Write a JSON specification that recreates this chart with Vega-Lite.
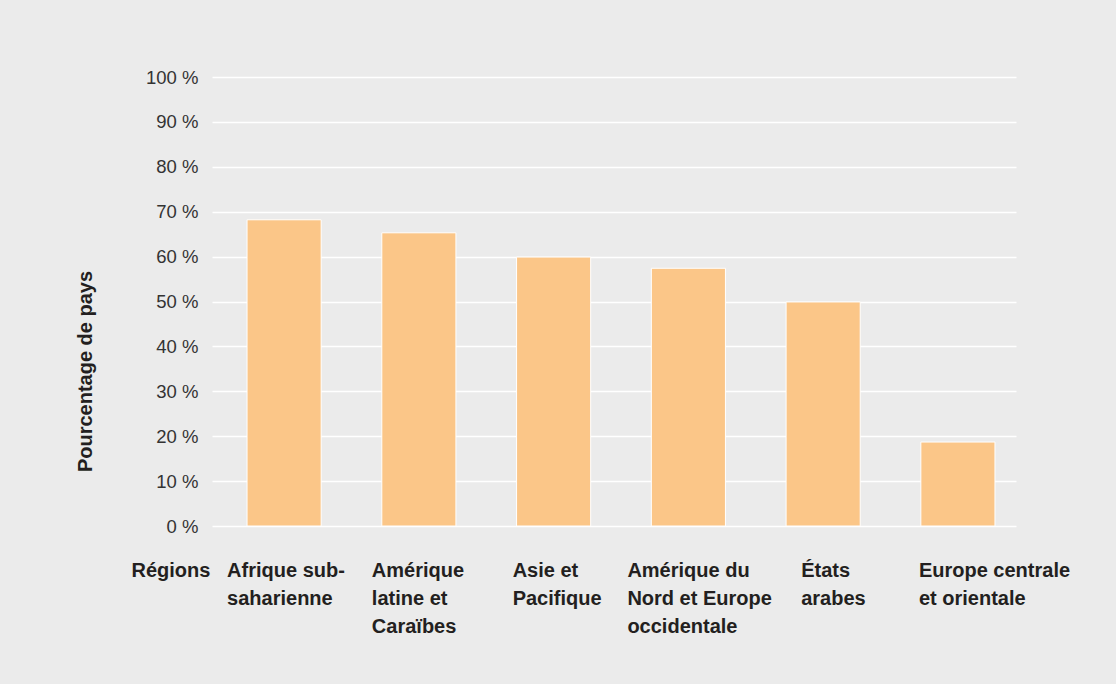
{
  "$schema": "https://vega.github.io/schema/vega-lite/v6.json",
  "autosize": "none",
  "width": 804,
  "height": 449,
  "padding": {"left": 212, "top": 77, "right": 100, "bottom": 158},
  "background": "#ebebeb",
  "data": {
    "values": [
      {"region": "Afrique sub-|saharienne", "pct": 68.2},
      {"region": "Amérique|latine et|Caraïbes", "pct": 65.3},
      {"region": "Asie et|Pacifique", "pct": 59.9},
      {"region": "Amérique du|Nord et Europe|occidentale", "pct": 57.4},
      {"region": "États|arabes", "pct": 49.9},
      {"region": "Europe centrale|et orientale", "pct": 18.7}
    ]
  },
  "mark": {"type": "bar", "color": "#fbc688", "stroke": "#ffffff", "strokeWidth": 1},
  "encoding": {
    "x": {
      "field": "region",
      "type": "nominal",
      "sort": null,
      "scale": {"paddingInner": 0.45, "paddingOuter": 0.208, "align": 0.625},
      "axis": {
        "title": "Régions",
        "titleFont": "Liberation Sans",
        "titleFontWeight": "bold",
        "titleFontSize": 20,
        "titleColor": "#231f20",
        "titleX": -81,
        "titleY": 50,
        "titleAlign": "left",
        "titleBaseline": "alphabetic",
        "titleAngle": 0,
        "labelExpr": "split(datum.value, '|')",
        "labelFont": "Liberation Sans",
        "labelFontWeight": "bold",
        "labelFontSize": 20,
        "labelColor": "#231f20",
        "labelAngle": 0,
        "labelAlign": "left",
        "labelBaseline": "alphabetic",
        "labelLineHeight": 28,
        "labelPadding": 50,
        "labelOffset": {
          "condition": [
            {"test": "datum.value === 'Afrique sub-|saharienne'", "value": -57},
            {"test": "datum.value === 'Amérique|latine et|Caraïbes'", "value": -47},
            {"test": "datum.value === 'Asie et|Pacifique'", "value": -41},
            {"test": "datum.value === 'Amérique du|Nord et Europe|occidentale'", "value": -61},
            {"test": "datum.value === 'États|arabes'", "value": -22}
          ],
          "value": -39
        },
        "labelLimit": 0,
        "labelOverlap": false,
        "ticks": false,
        "tickSize": 0,
        "domain": false,
        "grid": false
      }
    },
    "y": {
      "field": "pct",
      "type": "quantitative",
      "scale": {"domain": [0, 100], "nice": false},
      "axis": {
        "title": "Pourcentage de pays",
        "titleFont": "Liberation Sans",
        "titleFontWeight": "bold",
        "titleFontSize": 20,
        "titleColor": "#231f20",
        "titleX": -121,
        "titleY": 294,
        "titleAngle": -90,
        "titleAlign": "center",
        "titleBaseline": "alphabetic",
        "values": [0, 10, 20, 30, 40, 50, 60, 70, 80, 90, 100],
        "labelExpr": "datum.value + ' %'",
        "labelFont": "Liberation Sans",
        "labelFontSize": 18.5,
        "labelColor": "#333333",
        "labelPadding": 14,
        "labelBaseline": "middle",
        "ticks": false,
        "tickSize": 0,
        "domain": false,
        "grid": true,
        "gridColor": "#ffffff",
        "gridWidth": 1.5
      }
    }
  },
  "config": {
    "view": {"stroke": null}
  }
}
